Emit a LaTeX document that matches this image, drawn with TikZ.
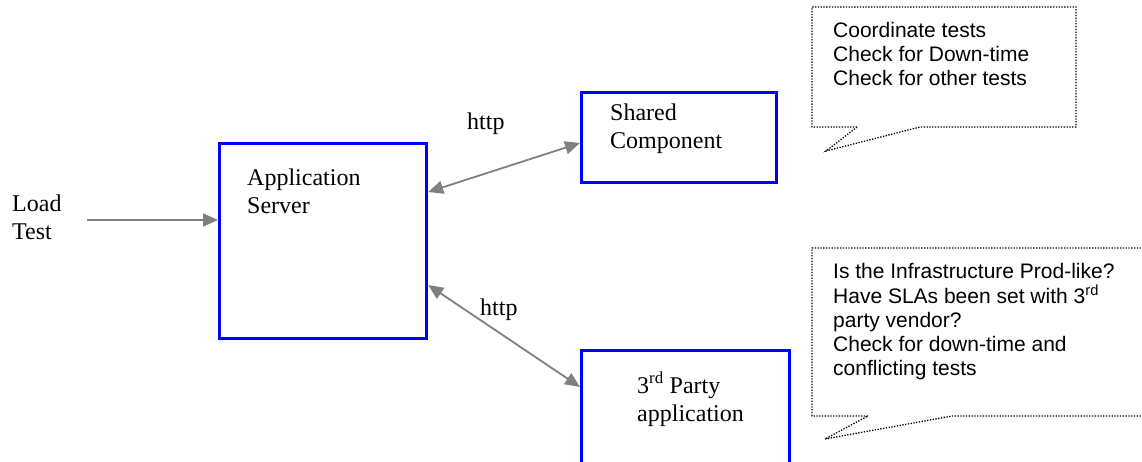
\documentclass[tikz,border=0pt]{standalone}
\usepackage{fontspec}
\setmainfont{Liberation Serif}
\newfontfamily\arialfont{Liberation Sans}
\usetikzlibrary{arrows.meta}
\definecolor{boxblue}{RGB}{0,0,255}
\definecolor{arrowgray}{RGB}{128,128,128}
\tikzset{
  bluebox/.style={draw=boxblue, line width=3.2pt, rectangle, inner sep=0pt, anchor=north west},
  serif/.style={anchor=base west, inner sep=0pt, font=\fontsize{24}{28}\selectfont},
  sans/.style={anchor=base west, inner sep=0pt, font=\arialfont\fontsize{21}{24}\selectfont},
  conn/.style={draw=arrowgray, line width=1.8pt},
  headtip/.style={-{Triangle[length=15pt,width=13pt]}},
  bothtip/.style={{Triangle[length=15pt,width=13pt]}-{Triangle[length=15pt,width=13pt]}},
  callout/.style={draw=black, line width=1.3pt, dash pattern=on 1.3pt off 1.5pt, line join=miter}
}
\newcommand{\lines}[1]{\begin{tabular}[t]{@{}l@{}}#1\end{tabular}}
\begin{document}
\begin{tikzpicture}[x=1pt,y=-1pt]
\useasboundingbox (0,0) rectangle (1142,462);
\clip (0,0) rectangle (1142,462);
\fill[white] (0,0) rectangle (1142,462);

% boxes
\node[bluebox, minimum width=207pt, minimum height=195pt] (app) at (218,142) {};
\node[bluebox, minimum width=195pt, minimum height=90pt] (shared) at (580,91) {};
\node[bluebox, minimum width=208pt, minimum height=130pt] (third) at (580,349) {};

% texts
\node[serif] (loadtxt) at (12,212) {\lines{Load\\Test}};
\node[serif] (apptxt) at (247,186) {\lines{Application\\Server}};
\node[serif] (sharedtxt) at (610,121) {\lines{Shared\\Component}};
\node[serif] (thirdtxt) at (637,393) {\lines{3\textsuperscript{rd} Party\\application}};
\node[serif] (http1) at (467,130) {http};
\node[serif] (http2) at (480,315) {http};

% connectors
\coordinate (loadstart) at (87,220);
\draw[conn, headtip] (loadstart) -- (loadstart -| app.west);
\draw[conn, bothtip] (app.east |- 0,192) -- (shared.west |- 0,143);
\draw[conn, bothtip] (app.east |- 0,285) -- (third.west |- 0,387);

% callout 1
\draw[callout] (857,127) -- (812,127) -- (812,7) -- (1076,7) -- (1076,127) -- (920,127) -- (826,151) -- cycle;
\node[sans] (note1) at (833,38) {\lines{Coordinate tests\\Check for Down-time\\Check for other tests}};

% callout 2
\draw[callout] (868,416) -- (812,416) -- (812,248) -- (1150,248) -- (1150,416) -- (952,416) -- (825,439) -- cycle;
\node[sans] (note2) at (833,278) {\lines{Is the Infrastructure Prod-like?\\Have SLAs been set with 3\textsuperscript{rd}\\party vendor?\\Check for down-time and\\conflicting tests}};
\end{tikzpicture}
\end{document}
